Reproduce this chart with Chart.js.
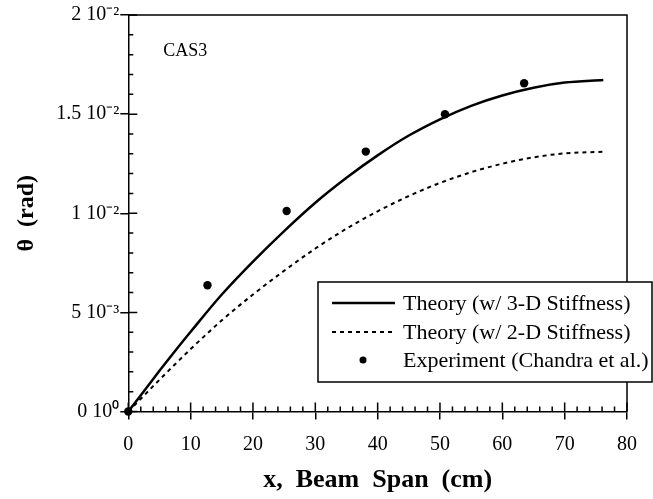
<!DOCTYPE html>
<html><head><meta charset="utf-8">
<script src="https://cdn.jsdelivr.net/npm/chart.js@4"></script>
<style>html,body{margin:0;padding:0;background:#fff}#wrap{width:653px;height:499px;position:relative}</style>
</head><body><div id="wrap"><canvas id="c" width="653" height="499"></canvas></div>
<script>
// Data
const theoryX   = [0, 2.5, 5, 7.5, 10, 15, 20, 25, 30, 35, 40, 45, 50, 55, 60, 65, 70, 76.2];
const theory3D  = [0, 0.00102, 0.00205, 0.00305, 0.00402, 0.0059, 0.00756, 0.0091, 0.01053, 0.01179, 0.01292, 0.01392, 0.01474, 0.01542, 0.01594, 0.01633, 0.01659, 0.01672];
const theory2D  = [0, 0.0008, 0.0016, 0.00238, 0.00315, 0.0046, 0.0059, 0.0071, 0.00822, 0.00922, 0.0101, 0.01087, 0.01153, 0.01207, 0.0125, 0.01282, 0.01302, 0.0131];
const expX      = [0, 12.7, 25.4, 38.1, 50.8, 63.5];
const expY      = [0, 0.00637, 0.01011, 0.01311, 0.01499, 0.01656];
const xTickValues = [0, 10, 20, 30, 40, 50, 60, 70, 80];
const yTickValues = [0, 0.005, 0.01, 0.015, 0.02];
const yTickLabels = ['0 10\u2070', '5 10\u207B\u00B3', '1 10\u207B\u00B2', '1.5 10\u207B\u00B2', '2 10\u207B\u00B2'];
const seriesLabels = ['Theory (w/ 3-D Stiffness)', 'Theory (w/ 2-D Stiffness)', 'Experiment (Chandra et al.)'];
const annotationText = 'CAS3';
const xTitle = 'x,  Beam  Span  (cm)';
const yTitle = '\u03B8  (rad)';

const SERIF = '"Liberation Serif", "Times New Roman", serif';
const toPts = (xs, ys) => xs.map((x, i) => ({x: x, y: ys[i]}));

const frameTicks = {
  id: 'frameTicks',
  beforeDatasetsDraw(chart) {
    const {ctx, chartArea: ca, scales: {x: xs, y: ys}} = chart;
    ctx.save();
    ctx.strokeStyle = '#000';
    ctx.lineWidth = 1.5;
    ctx.beginPath();
    ctx.moveTo(ca.left, ca.top); ctx.lineTo(ca.right, ca.top); ctx.lineTo(ca.right, ca.bottom);
    ctx.stroke();
    ctx.beginPath();
    for (let i = 0; i < yTickValues.length; i++) {
      const py = ys.getPixelForValue(yTickValues[i]);
      ctx.moveTo(ca.left, py); ctx.lineTo(ca.left + 9, py);
      if (i < yTickValues.length - 1) {
        const step = (yTickValues[i + 1] - yTickValues[i]) / 5;
        for (let k = 1; k < 5; k++) {
          const pm = ys.getPixelForValue(yTickValues[i] + k * step);
          ctx.moveTo(ca.left, pm); ctx.lineTo(ca.left + 5, pm);
        }
      }
    }
    for (let i = 0; i < xTickValues.length; i++) {
      const px = xs.getPixelForValue(xTickValues[i]);
      ctx.moveTo(px, ca.bottom); ctx.lineTo(px, ca.bottom - 9);
      if (i < xTickValues.length - 1) {
        const step = (xTickValues[i + 1] - xTickValues[i]) / 5;
        for (let k = 1; k < 5; k++) {
          const pm = xs.getPixelForValue(xTickValues[i] + k * step);
          ctx.moveTo(pm, ca.bottom); ctx.lineTo(pm, ca.bottom - 5);
        }
      }
    }
    ctx.stroke();
    ctx.restore();
  },
  afterDraw(chart) {
    const {ctx, chartArea: ca} = chart;
    ctx.save();
    ctx.fillStyle = '#000';
    ctx.font = '18px ' + SERIF;
    ctx.textBaseline = 'middle';
    ctx.textAlign = 'left';
    ctx.fillText(annotationText, ca.left + 35, ca.top + 36);
    const bx = 318, by = 282, bw = 334, bh = 100;
    ctx.fillStyle = '#fff';
    ctx.fillRect(bx, by, bw, bh);
    ctx.strokeStyle = '#000';
    ctx.lineWidth = 1.5;
    ctx.strokeRect(bx, by, bw, bh);
    const rows = [303, 332, 360];
    const ds = chart.data.datasets;
    ctx.font = '22px ' + SERIF;
    ctx.fillStyle = '#000';
    for (let i = 0; i < ds.length; i++) {
      const y = rows[i];
      if (i < 2) {
        ctx.beginPath();
        ctx.lineWidth = ds[i].borderWidth;
        ctx.setLineDash(ds[i].borderDash || []);
        ctx.moveTo(332, y); ctx.lineTo(395, y);
        ctx.stroke();
        ctx.setLineDash([]);
      } else {
        ctx.beginPath();
        ctx.arc(363, y, 3.5, 0, Math.PI * 2);
        ctx.fill();
      }
      ctx.fillText(ds[i].label, 403, y + 1);
    }
    ctx.restore();
  }
};

new Chart(document.getElementById('c'), {
  type: 'line',
  data: {
    datasets: [
      { label: seriesLabels[0], data: toPts(theoryX, theory3D), borderColor: '#000', borderWidth: 2.5,
        pointRadius: 0, cubicInterpolationMode: 'monotone', fill: false },
      { label: seriesLabels[1], data: toPts(theoryX, theory2D), borderColor: '#000', borderWidth: 2,
        borderDash: [4, 4], pointRadius: 0, cubicInterpolationMode: 'monotone', fill: false },
      { label: seriesLabels[2], data: toPts(expX, expY), showLine: false, pointRadius: 4.2,
        pointBackgroundColor: '#000', pointBorderColor: '#000', pointBorderWidth: 0, clip: false }
    ]
  },
  options: {
    responsive: false,
    devicePixelRatio: 1,
    animation: false,
    layout: { padding: { top: 15, right: 26, left: 0, bottom: 0 } },
    plugins: { legend: { display: false }, tooltip: { enabled: false } },
    scales: {
      x: {
        type: 'linear', min: 0, max: 80,
        afterFit(s) { s.height = 87.5; },
        afterBuildTicks(s) { s.ticks = xTickValues.map(v => ({value: v})); },
        ticks: { color: '#000', font: { family: SERIF, size: 20 }, padding: 13, maxRotation: 0,
          callback: v => String(v) },
        grid: { display: true, drawOnChartArea: false, drawTicks: true, tickLength: 8, color: '#000', lineWidth: 1.5 },
        border: { display: true, color: '#000', width: 1.5 },
        title: { display: true, text: xTitle, color: '#000', font: { family: SERIF, size: 26, weight: 'bold' },
          padding: { top: 0, bottom: 3 } }
      },
      y: {
        type: 'linear', min: 0, max: 0.02,
        afterFit(s) { s.width = 128.3; },
        afterBuildTicks(s) { s.ticks = yTickValues.map(v => ({value: v})); },
        ticks: { color: '#000', font: { family: SERIF, size: 20 }, padding: 1,
          callback: (v) => { const i = yTickValues.findIndex(t => Math.abs(t - v) < 1e-9); return i >= 0 ? yTickLabels[i] : ''; } },
        grid: { display: true, drawOnChartArea: false, drawTicks: true, tickLength: 8, color: '#000', lineWidth: 1.5 },
        border: { display: true, color: '#000', width: 1.5 },
        title: { display: true, text: yTitle, color: '#000', font: { family: SERIF, size: 24, weight: 'bold' },
          padding: { top: 12, bottom: 0 } }
      }
    }
  },
  plugins: [frameTicks]
});
</script>
</body></html>
